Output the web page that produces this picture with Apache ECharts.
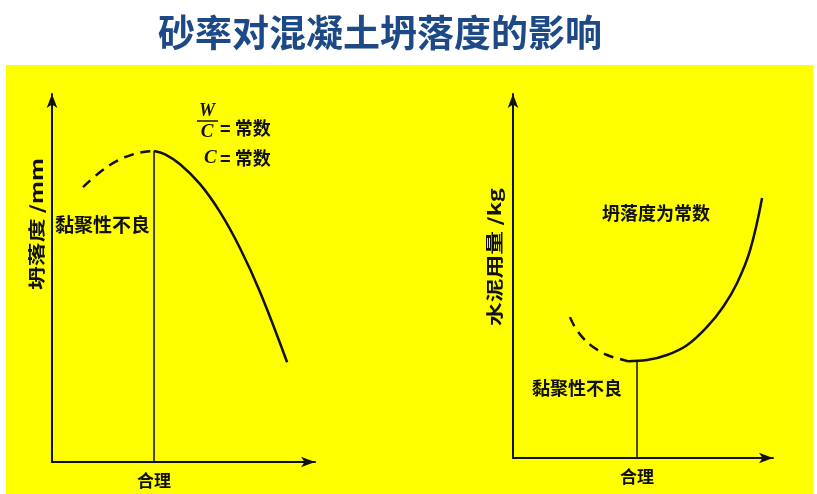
<!DOCTYPE html>
<html>
<head>
<meta charset="utf-8">
<script src="https://cdn.jsdelivr.net/npm/echarts@6/dist/echarts.min.js"></script>
<style>
  html, body { margin: 0; padding: 0; background: #fff; }
  #main { width: 817px; height: 494px; }
</style>
</head>
<body>
<div id="main"></div>
<script>
// ---- 数据（两轴都用 0~100 的相对单位）----
// 左图：坍落度 - 砂率
const slumpDashed = [[11.8, 74.7], [18.3, 78.8], [24.7, 81.8], [30.8, 83.6], [36.1, 84.4], [38.8, 84.5]];
const slumpSolid = [[38.8, 84.5], [43.0, 83.6], [48.7, 80.9], [56.3, 75.5], [63.9, 67.9], [71.5, 58.1], [79.1, 46.2], [89.4, 27.1]];
const slumpOptimum = [[38.8, 0], [38.8, 84.5]];
// 右图：水泥用量 - 砂率
const cementDashed = [[21.9, 38.7], [23.8, 36.0], [26.9, 33.0], [30.8, 30.5], [36.2, 28.3], [41.2, 27.2], [44.2, 26.6]];
const cementSolid = [[44.2, 26.6], [51.5, 26.9], [59.2, 28.3], [66.9, 31.0], [74.6, 36.0], [80.8, 41.5], [86.2, 48.1], [91.2, 57.1], [95.8, 71.4]];
const cementOptimum = [[47.7, 0], [47.7, 26.7]];

const optimumLabel = '合理';
const poorLabel = '黏聚性不良';

const CJK = '"Noto Sans CJK SC", sans-serif';
const SERIF = '"Liberation Serif", "DejaVu Serif", serif';
const INK = '#111';

// ---- 坐标轴 ----
function axisOf(gi) {
  return {
    type: 'value', gridIndex: gi, min: 0, max: 100,
    axisLine: { onZero: false, symbol: ['none', 'arrow'], symbolSize: [8, 14], lineStyle: { color: INK, width: 2 } },
    axisTick: { show: false }, axisLabel: { show: false }, splitLine: { show: false }
  };
}

// ---- 曲线 ----
function curve(gi, data, dashed) {
  return {
    type: 'line', xAxisIndex: gi, yAxisIndex: gi, data: data,
    smooth: 0.4, symbol: 'none', silent: true,
    lineStyle: { color: INK, width: 2.5, type: dashed ? [10, 7] : 'solid' }
  };
}
// 合理砂率处的竖线，底端标注“合理”
function optimum(gi, data) {
  return {
    type: 'line', xAxisIndex: gi, yAxisIndex: gi, silent: true,
    symbol: 'circle', symbolSize: 0, showSymbol: true,
    lineStyle: { color: INK, width: 1.5 },
    data: [
      { value: data[0], label: { show: true, position: 'bottom', distance: 10, formatter: optimumLabel, color: INK, fontSize: 17, fontWeight: 'bold', fontFamily: CJK } },
      data[1]
    ]
  };
}

// 标注文字（位置为像素）
function txt(x, y, text, font, opts) {
  opts = opts || {};
  return {
    type: 'text', x: x, y: y, z: 10,
    rotation: opts.rotation || 0, scaleX: opts.scaleX || 1,
    style: {
      text: text, font: font, fill: INK,
      align: opts.align || 'left', verticalAlign: 'middle',
      textAlign: opts.align || 'left', textVerticalAlign: 'middle'
    }
  };
}

const chart = echarts.init(document.getElementById('main'));
chart.setOption({
  animation: false,
  backgroundColor: '#fff',
  title: {
    text: '砂率对混凝土坍落度的影响', left: 153, top: 9,
    textStyle: { fontSize: 37, fontWeight: 'bold', color: '#1d4a87', fontFamily: CJK }
  },
  grid: [
    { left: 52, top: 94, width: 263, height: 368 },
    { left: 513, top: 94, width: 260, height: 364 }
  ],
  xAxis: [axisOf(0), axisOf(1)],
  yAxis: [axisOf(0), axisOf(1)],
  series: [
    curve(0, slumpDashed, true),
    curve(0, slumpSolid, false),
    optimum(0, slumpOptimum),
    curve(1, cementDashed, true),
    curve(1, cementSolid, false),
    optimum(1, cementOptimum)
  ],
  graphic: [
    { type: 'rect', z: -10, shape: { x: 6, y: 65, width: 807, height: 429 }, style: { fill: '#ffff00' } },
    // 左图标注
    txt(37, 224, '坍落度 /mm', 'bold 17px ' + CJK, { rotation: Math.PI / 2, scaleX: 1.4, align: 'center' }),
    txt(55, 225, poorLabel, 'bold 19px ' + CJK),
    txt(207, 111, 'W', 'italic bold 18px ' + SERIF, { align: 'center' }),
    { type: 'line', z: 10, shape: { x1: 197, y1: 121, x2: 218, y2: 121 }, style: { stroke: INK, lineWidth: 1.5 } },
    txt(207, 132, 'C', 'italic bold 19px ' + SERIF, { align: 'center' }),
    txt(220, 128, '= 常数', 'bold 18px ' + CJK),
    txt(204, 158, 'C', 'italic bold 19px ' + SERIF),
    txt(220, 158, '= 常数', 'bold 18px ' + CJK),
    // 右图标注
    txt(495, 257, '水泥用量 /kg', 'bold 17px ' + CJK, { rotation: Math.PI / 2, scaleX: 1.4, align: 'center' }),
    txt(602, 213, '坍落度为常数', 'bold 18px ' + CJK),
    txt(532, 388, poorLabel, 'bold 18px ' + CJK)
  ]
});
</script>
</body>
</html>
